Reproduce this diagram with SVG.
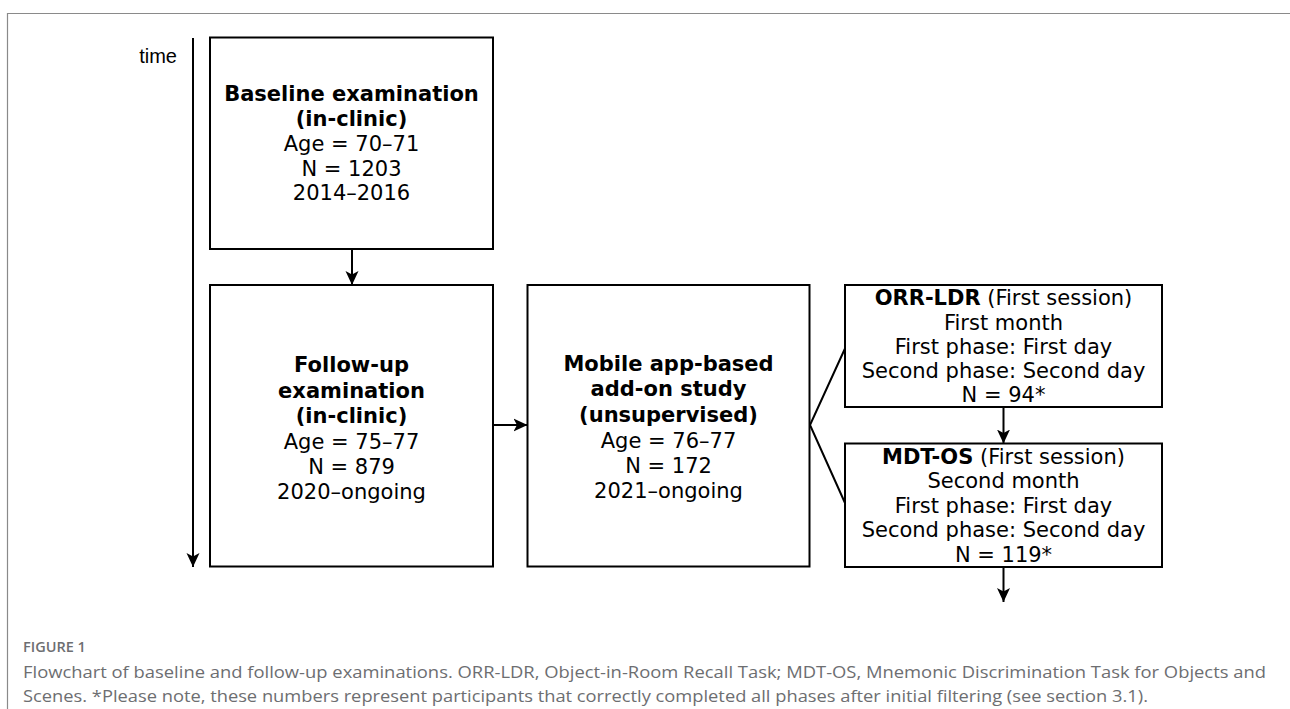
<svg xmlns="http://www.w3.org/2000/svg" width="1290" height="709" viewBox="0 0 1290 709">
  <style>
    .box { fill: #ffffff; stroke: #000000; stroke-width: 2; }
    .edge { fill: none; stroke: #000000; stroke-width: 2; }
    .lbl { font-family: "DejaVu Sans", Verdana, sans-serif; font-size: 21px; fill: #000000; text-anchor: middle; }
    .b { font-weight: bold; }
    .axis-lbl { font-family: "Liberation Sans", Arial, sans-serif; font-size: 20px; fill: #000000; text-anchor: end; }
    .cap { font-family: "Open Sans", "Liberation Sans", sans-serif; font-size: 17px; fill: #6d6e71; }
    .cap-head { font-family: "Open Sans", "Liberation Sans", sans-serif; font-size: 14.5px; font-weight: 600; fill: #6d6e71; }
    .frame { fill: none; stroke: #8a8a8a; stroke-width: 1.2; }
  </style>
  <defs>
    <marker id="arrow" viewBox="0 0 14 14" refX="14" refY="7" markerWidth="14" markerHeight="14" markerUnits="userSpaceOnUse" orient="auto">
      <path d="M0,0.5 L14,7 L0,13.5 L3.5,7 Z" fill="#000000"/>
    </marker>
  </defs>

  <rect width="1290" height="709" fill="#ffffff"/>

  <!-- figure frame (left and top rules) -->
  <path class="frame" d="M7.5,709 L7.5,13.5 L1290,13.5"/>

  <!-- time axis -->
  <g id="time-axis">
    <text class="axis-lbl" x="177" y="63">time</text>
    <line class="edge" x1="193" y1="38" x2="193" y2="567" marker-end="url(#arrow)"/>
  </g>

  <!-- connectors -->
  <g id="connectors">
    <line class="edge" x1="352" y1="249" x2="352" y2="285" marker-end="url(#arrow)"/>
    <line class="edge" x1="493" y1="425" x2="527.5" y2="425" marker-end="url(#arrow)"/>
    <polyline class="edge" points="845,348.5 810,425 845,503"/>
    <line class="edge" x1="1003.5" y1="407" x2="1003.5" y2="443.5" marker-end="url(#arrow)"/>
    <line class="edge" x1="1003.5" y1="567" x2="1003.5" y2="602" marker-end="url(#arrow)"/>
  </g>

  <g id="baseline">
    <rect class="box" x="210" y="37.5" width="283" height="211.5"/>
    <text class="lbl b" x="351.5" y="101">Baseline examination</text>
    <text class="lbl b" x="351.5" y="126">(in-clinic)</text>
    <text class="lbl" x="351.5" y="151">Age = 70–71</text>
    <text class="lbl" x="351.5" y="176">N = 1203</text>
    <text class="lbl" x="351.5" y="200">2014–2016</text>
  </g>

  <g id="follow-up">
    <rect class="box" x="210" y="285" width="283" height="281.5"/>
    <text class="lbl b" x="351.5" y="372">Follow-up</text>
    <text class="lbl b" x="351.5" y="397.5">examination</text>
    <text class="lbl b" x="351.5" y="423">(in-clinic)</text>
    <text class="lbl" x="351.5" y="448.5">Age = 75–77</text>
    <text class="lbl" x="351.5" y="474">N = 879</text>
    <text class="lbl" x="351.5" y="499">2020–ongoing</text>
  </g>

  <g id="mobile-study">
    <rect class="box" x="527.5" y="285" width="282" height="281.5"/>
    <text class="lbl b" x="668.5" y="370.5">Mobile app-based</text>
    <text class="lbl b" x="668.5" y="396">add-on study</text>
    <text class="lbl b" x="668.5" y="421.5">(unsupervised)</text>
    <text class="lbl" x="668.5" y="447.5">Age = 76–77</text>
    <text class="lbl" x="668.5" y="473">N = 172</text>
    <text class="lbl" x="668.5" y="498">2021–ongoing</text>
  </g>

  <g id="orr-ldr">
    <rect class="box" x="845" y="285" width="317" height="122"/>
    <text class="lbl" x="1003.5" y="305"><tspan class="b">ORR-LDR</tspan> (First session)</text>
    <text class="lbl" x="1003.5" y="329.5">First month</text>
    <text class="lbl" x="1003.5" y="353.5">First phase: First day</text>
    <text class="lbl" x="1003.5" y="378">Second phase: Second day</text>
    <text class="lbl" x="1003.5" y="402">N = 94*</text>
  </g>

  <g id="mdt-os">
    <rect class="box" x="845" y="443.5" width="317" height="123.5"/>
    <text class="lbl" x="1003.5" y="463.5"><tspan class="b">MDT-OS</tspan> (First session)</text>
    <text class="lbl" x="1003.5" y="488">Second month</text>
    <text class="lbl" x="1003.5" y="512.5">First phase: First day</text>
    <text class="lbl" x="1003.5" y="537">Second phase: Second day</text>
    <text class="lbl" x="1003.5" y="561.5">N = 119*</text>
  </g>

  <!-- caption -->
  <g id="caption">
    <text class="cap-head" x="23" y="652">FIGURE 1</text>
    <text class="cap" x="23" y="678" textLength="1243" lengthAdjust="spacingAndGlyphs">Flowchart of baseline and follow-up examinations. ORR-LDR, Object-in-Room Recall Task; MDT-OS, Mnemonic Discrimination Task for Objects and</text>
    <text class="cap" x="23" y="702" textLength="1125" lengthAdjust="spacingAndGlyphs">Scenes. *Please note, these numbers represent participants that correctly completed all phases after initial filtering (see section 3.1).</text>
  </g>
</svg>
